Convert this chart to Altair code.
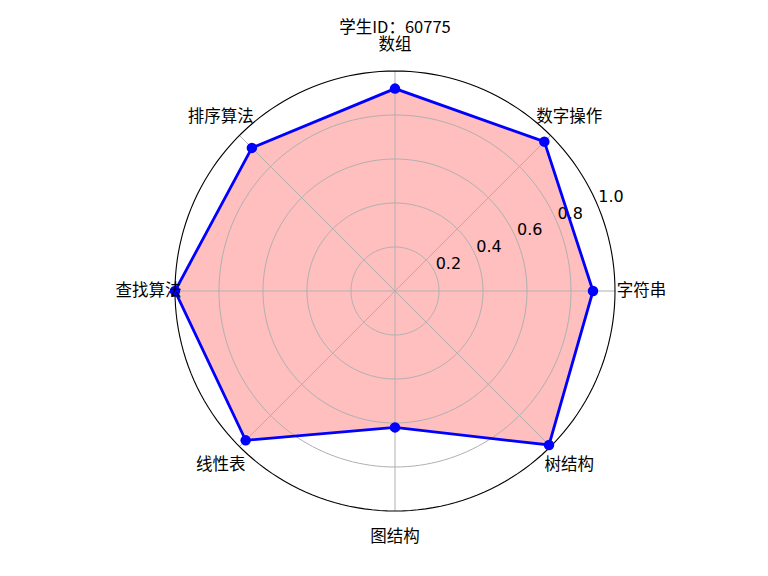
import altair as alt
import pandas as pd
import math

title_text = "学生ID：60775"
categories = ["字符串", "数字操作", "数组", "排序算法", "查找算法", "线性表", "图结构", "树结构"]
values = [0.90, 0.96, 0.92, 0.92, 1.00, 0.96, 0.62, 0.99]
rticks = [0.2, 0.4, 0.6, 0.8, 1.0]
rtick_labels = ["0.2", "0.4", "0.6", "0.8", "1.0"]

n = len(categories)
df = pd.DataFrame({"cat": categories, "val": values, "idx": list(range(n))})

# grid circles (geometry helper)
grid_rows = []
for r in rticks:
    for k in range(0, 180):
        grid_rows.append({"r": r, "k": k})
df_grid = pd.DataFrame(grid_rows)
df_ticks = pd.DataFrame({"r": rticks, "lab": rtick_labels})

W, H = 750, 556
R = 220
cx, cy = 387, 283
xs = alt.Scale(domain=[-cx / R, (W - cx) / R], nice=False, zero=False)
ys = alt.Scale(domain=[-(H - cy) / R, cy / R], nice=False, zero=False)

ang = f"datum.idx * 2 * PI / {n}"

def X(f):
    return alt.X(f, type="quantitative", scale=xs, axis=None)

def Y(f):
    return alt.Y(f, type="quantitative", scale=ys, axis=None)

base = alt.Chart(df).transform_calculate(
    ang=ang,
    x="datum.val * cos(datum.ang)",
    y="datum.val * sin(datum.ang)",
)

grid = alt.Chart(df_grid).transform_filter("datum.r < 1").transform_calculate(
    t="datum.k * 2 * PI / 180",
    x="datum.r * cos(datum.t)",
    y="datum.r * sin(datum.t)",
).mark_line(interpolate="linear-closed", color="#b0b0b0", strokeWidth=1).encode(
    x=X("x"), y=Y("y"), detail="r:N", order="k:Q"
)

outer = alt.Chart(df_grid).transform_filter("datum.r >= 1").transform_calculate(
    t="datum.k * 2 * PI / 180",
    x="datum.r * cos(datum.t)",
    y="datum.r * sin(datum.t)",
).mark_line(interpolate="linear-closed", color="black", strokeWidth=1.1).encode(
    x=X("x"), y=Y("y"), detail="r:N", order="k:Q"
)

spokes = alt.Chart(df).transform_calculate(
    ang=ang,
    x0="0",
    y0="0",
    x1="cos(datum.ang)",
    y1="sin(datum.ang)",
).mark_rule(color="#b0b0b0", strokeWidth=1).encode(
    x=X("x0"), y=Y("y0"), x2="x1:Q", y2="y1:Q"
)

fill = base.mark_line(
    interpolate="linear-closed", fill="red", fillOpacity=0.25, strokeOpacity=0, stroke="red"
).encode(x=X("x"), y=Y("y"), order="idx:Q")

rlabels = alt.Chart(df_ticks).transform_calculate(
    x="datum.r * cos(PI / 8)",
    y="datum.r * sin(PI / 8)",
).mark_text(align="left", baseline="bottom", dy=-2, font="DejaVu Sans", fontSize=16, color="black").encode(
    x=X("x"), y=Y("y"), text="lab:N"
)

line = base.mark_line(interpolate="linear-closed", color="blue", strokeWidth=2.8).encode(
    x=X("x"), y=Y("y"), order="idx:Q"
)

points = base.mark_point(filled=True, shape="circle", size=110, color="blue", opacity=1).encode(
    x=X("x"), y=Y("y")
)

labels = alt.Chart(df).transform_calculate(
    ang=ang,
    x="1.12 * cos(datum.ang)",
    y="1.12 * sin(datum.ang)",
).mark_text(align="center", baseline="middle", font="Noto Sans CJK SC", fontSize=16.5, color="black").encode(
    x=X("x"), y=Y("y"), text="cat:N"
)

title = alt.Chart(pd.DataFrame({"t": [title_text]})).mark_text(
    align="center", baseline="middle", font="Noto Sans CJK SC", fontSize=16.5, color="black"
).encode(x=alt.value(cx), y=alt.value(20), text="t:N")

chart = alt.layer(fill, grid, spokes, outer, rlabels, line, points, labels, title).properties(
    width=W, height=H, padding=0, autosize=alt.AutoSizeParams(type="none")
).configure_view(stroke=None)

chart.save("out.html", embed_options={"renderer": "svg", "actions": False})
